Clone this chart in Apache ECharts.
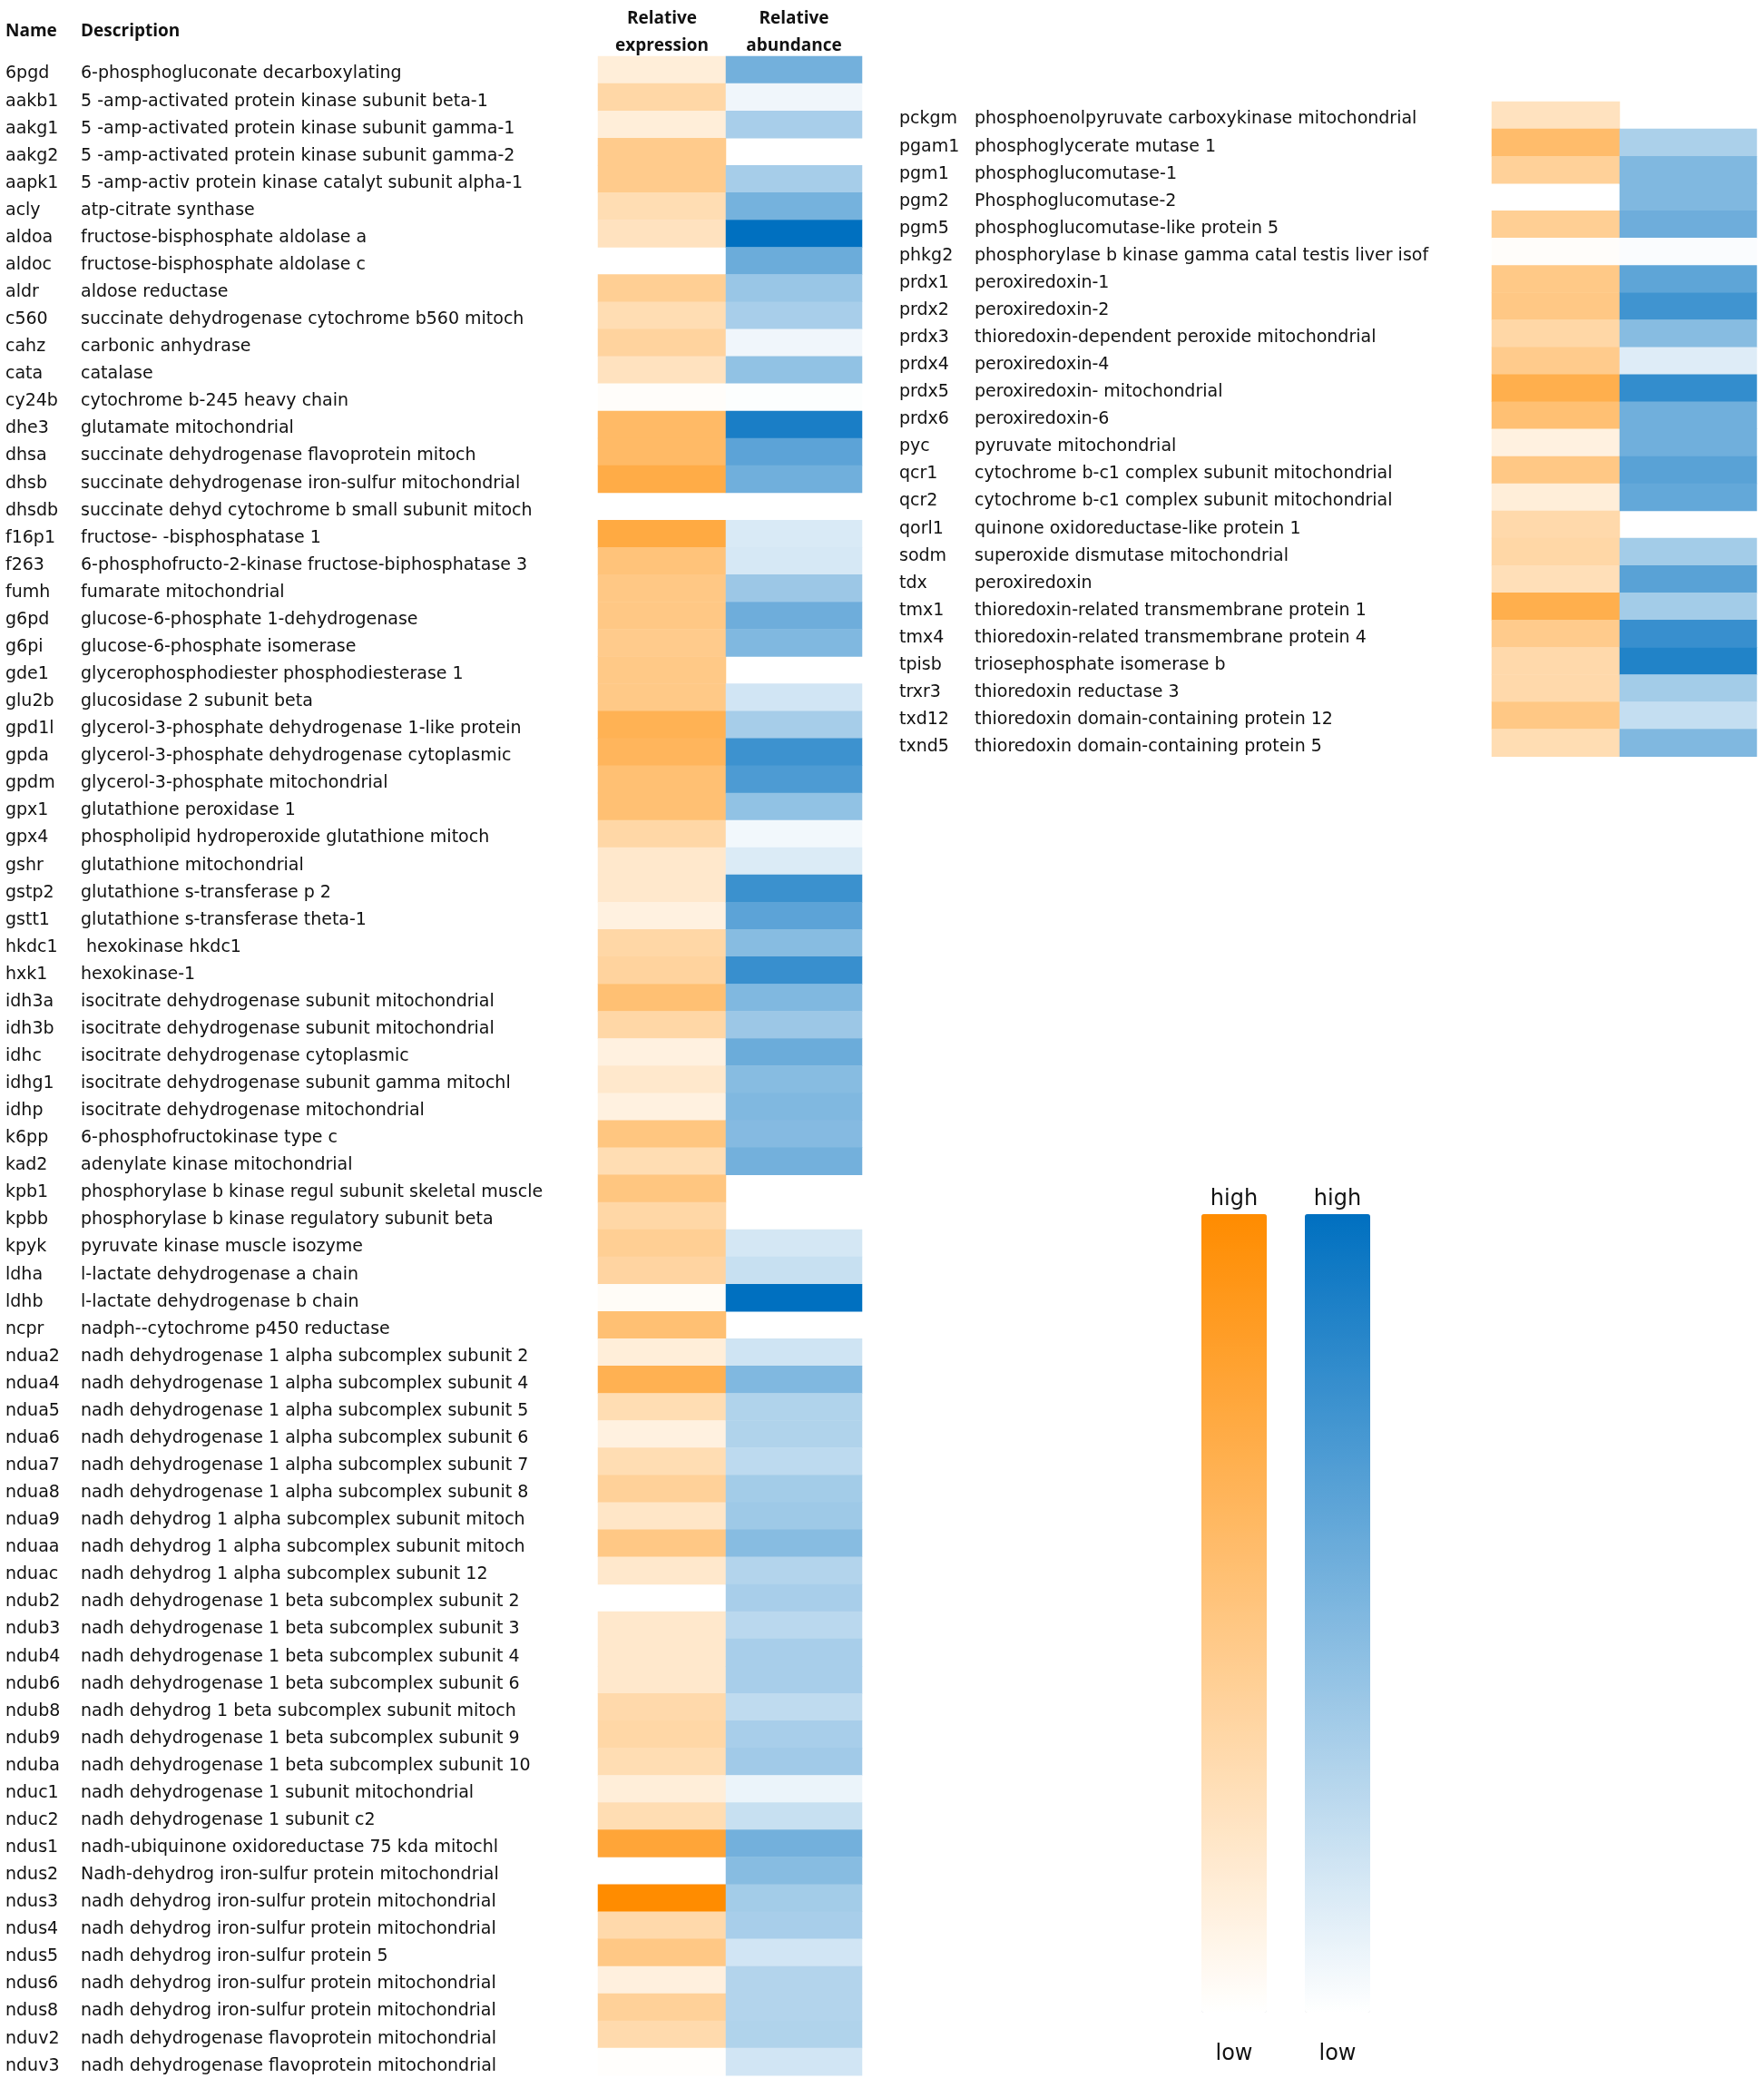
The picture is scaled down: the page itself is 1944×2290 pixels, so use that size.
<!DOCTYPE html>
<html>
<head>
<meta charset="utf-8">
<script src="https://cdn.jsdelivr.net/npm/echarts@6/dist/echarts.min.js"></script>
<style>
  html, body { margin: 0; padding: 0; background: #fff; }
  #main { width: 1944px; height: 2290px; }
</style>
</head>
<body>
<div id="main"></div>
<script>
// left table
const leftNames = ['6pgd','aakb1','aakg1','aakg2','aapk1','acly','aldoa','aldoc','aldr','c560','cahz','cata','cy24b','dhe3','dhsa','dhsb','dhsdb','f16p1','f263','fumh','g6pd','g6pi','gde1','glu2b','gpd1l','gpda','gpdm','gpx1','gpx4','gshr','gstp2','gstt1','hkdc1','hxk1','idh3a','idh3b','idhc','idhg1','idhp','k6pp','kad2','kpb1','kpbb','kpyk','ldha','ldhb','ncpr','ndua2','ndua4','ndua5','ndua6','ndua7','ndua8','ndua9','nduaa','nduac','ndub2','ndub3','ndub4','ndub6','ndub8','ndub9','nduba','nduc1','nduc2','ndus1','ndus2','ndus3','ndus4','ndus5','ndus6','ndus8','nduv2','nduv3'];
const leftDesc = [
  '6-phosphogluconate decarboxylating',
  '5 -amp-activated protein kinase subunit beta-1',
  '5 -amp-activated protein kinase subunit gamma-1',
  '5 -amp-activated protein kinase subunit gamma-2',
  '5 -amp-activ protein kinase catalyt subunit alpha-1',
  'atp-citrate synthase',
  'fructose-bisphosphate aldolase a',
  'fructose-bisphosphate aldolase c',
  'aldose reductase',
  'succinate dehydrogenase cytochrome b560 mitoch',
  'carbonic anhydrase',
  'catalase',
  'cytochrome b-245 heavy chain',
  'glutamate mitochondrial',
  'succinate dehydrogenase flavoprotein mitoch',
  'succinate dehydrogenase iron-sulfur mitochondrial',
  'succinate dehyd cytochrome b small subunit mitoch',
  'fructose- -bisphosphatase 1',
  '6-phosphofructo-2-kinase fructose-biphosphatase 3',
  'fumarate mitochondrial',
  'glucose-6-phosphate 1-dehydrogenase',
  'glucose-6-phosphate isomerase',
  'glycerophosphodiester phosphodiesterase 1',
  'glucosidase 2 subunit beta',
  'glycerol-3-phosphate dehydrogenase 1-like protein',
  'glycerol-3-phosphate dehydrogenase cytoplasmic',
  'glycerol-3-phosphate mitochondrial',
  'glutathione peroxidase 1',
  'phospholipid hydroperoxide glutathione mitoch',
  'glutathione mitochondrial',
  'glutathione s-transferase p 2',
  'glutathione s-transferase theta-1',
  ' hexokinase hkdc1',
  'hexokinase-1',
  'isocitrate dehydrogenase subunit mitochondrial',
  'isocitrate dehydrogenase subunit mitochondrial',
  'isocitrate dehydrogenase cytoplasmic',
  'isocitrate dehydrogenase subunit gamma mitochl',
  'isocitrate dehydrogenase mitochondrial',
  '6-phosphofructokinase type c',
  'adenylate kinase mitochondrial',
  'phosphorylase b kinase regul subunit skeletal muscle',
  'phosphorylase b kinase regulatory subunit beta',
  'pyruvate kinase muscle isozyme',
  'l-lactate dehydrogenase a chain',
  'l-lactate dehydrogenase b chain',
  'nadph--cytochrome p450 reductase',
  'nadh dehydrogenase 1 alpha subcomplex subunit 2',
  'nadh dehydrogenase 1 alpha subcomplex subunit 4',
  'nadh dehydrogenase 1 alpha subcomplex subunit 5',
  'nadh dehydrogenase 1 alpha subcomplex subunit 6',
  'nadh dehydrogenase 1 alpha subcomplex subunit 7',
  'nadh dehydrogenase 1 alpha subcomplex subunit 8',
  'nadh dehydrog 1 alpha subcomplex subunit mitoch',
  'nadh dehydrog 1 alpha subcomplex subunit mitoch',
  'nadh dehydrog 1 alpha subcomplex subunit 12',
  'nadh dehydrogenase 1 beta subcomplex subunit 2',
  'nadh dehydrogenase 1 beta subcomplex subunit 3',
  'nadh dehydrogenase 1 beta subcomplex subunit 4',
  'nadh dehydrogenase 1 beta subcomplex subunit 6',
  'nadh dehydrog 1 beta subcomplex subunit mitoch',
  'nadh dehydrogenase 1 beta subcomplex subunit 9',
  'nadh dehydrogenase 1 beta subcomplex subunit 10',
  'nadh dehydrogenase 1 subunit mitochondrial',
  'nadh dehydrogenase 1 subunit c2',
  'nadh-ubiquinone oxidoreductase 75 kda mitochl',
  'Nadh-dehydrog iron-sulfur protein mitochondrial',
  'nadh dehydrog iron-sulfur protein mitochondrial',
  'nadh dehydrog iron-sulfur protein mitochondrial',
  'nadh dehydrog iron-sulfur protein 5',
  'nadh dehydrog iron-sulfur protein mitochondrial',
  'nadh dehydrog iron-sulfur protein mitochondrial',
  'nadh dehydrogenase flavoprotein mitochondrial',
  'nadh dehydrogenase flavoprotein mitochondrial'
];
// relative expression (0 = low, 1 = high), null = no value
const leftExpr = [0.15,0.35,0.15,0.45,0.45,0.3,0.25,null,0.42,0.3,0.38,0.25,0.02,0.6,0.6,0.72,null,0.74,0.52,0.48,
  0.48,0.45,0.47,0.47,0.67,0.64,0.55,0.55,0.35,0.2,0.2,0.12,0.35,0.38,0.55,0.35,0.12,0.2,0.12,0.5,
  0.3,0.5,0.35,0.42,0.37,0.03,0.55,0.15,0.68,0.3,0.12,0.3,0.4,0.22,0.48,0.2,null,0.2,0.2,0.2,
  0.33,0.35,0.3,0.15,0.3,0.78,null,1.0,0.33,0.48,0.13,0.4,0.32,0.01];
// relative abundance
const leftAbund = [0.55,0.06,0.34,null,0.35,0.54,1.0,0.58,0.4,0.34,0.06,0.43,0.01,0.9,0.64,0.56,null,0.15,0.16,0.39,
  0.57,0.5,null,0.18,0.35,0.76,0.7,0.43,0.05,0.14,0.77,0.64,0.47,0.78,0.5,0.39,0.58,0.47,0.5,0.48,
  0.55,null,null,0.17,0.22,1.0,null,0.19,0.5,0.31,0.31,0.26,0.36,0.38,0.47,0.3,0.34,0.27,0.34,0.34,
  0.25,0.34,0.37,0.08,0.22,0.55,0.47,0.36,0.34,0.18,0.3,0.3,0.31,0.18];

// right table
const rightNames = ['pckgm','pgam1','pgm1','pgm2','pgm5','phkg2','prdx1','prdx2','prdx3','prdx4','prdx5','prdx6','pyc','qcr1','qcr2','qorl1','sodm','tdx','tmx1','tmx4','tpisb','trxr3','txd12','txnd5'];
const rightDesc = [
  'phosphoenolpyruvate carboxykinase mitochondrial',
  'phosphoglycerate mutase 1',
  'phosphoglucomutase-1',
  'Phosphoglucomutase-2',
  'phosphoglucomutase-like protein 5',
  'phosphorylase b kinase gamma catal testis liver isof',
  'peroxiredoxin-1',
  'peroxiredoxin-2',
  'thioredoxin-dependent peroxide mitochondrial',
  'peroxiredoxin-4',
  'peroxiredoxin- mitochondrial',
  'peroxiredoxin-6',
  'pyruvate mitochondrial',
  'cytochrome b-c1 complex subunit mitochondrial',
  'cytochrome b-c1 complex subunit mitochondrial',
  'quinone oxidoreductase-like protein 1',
  'superoxide dismutase mitochondrial',
  'peroxiredoxin',
  'thioredoxin-related transmembrane protein 1',
  'thioredoxin-related transmembrane protein 4',
  'triosephosphate isomerase b',
  'thioredoxin reductase 3',
  'thioredoxin domain-containing protein 12',
  'thioredoxin domain-containing protein 5'
];
const rightExpr = [0.25,0.58,0.4,null,0.42,0.02,0.47,0.48,0.35,0.45,0.7,0.55,0.12,0.48,0.15,0.33,0.35,0.28,0.7,0.45,0.33,0.33,0.48,0.3];
const rightAbund = [null,0.33,0.5,0.5,0.57,0.02,0.63,0.75,0.47,0.13,0.8,0.56,0.56,0.65,0.61,null,0.36,0.65,0.36,0.78,0.87,0.36,0.23,0.5];

const colHeaders = ['Relative\nexpression', 'Relative\nabundance'];
const legendText = ['high', 'low'];

const HEAD_FONT = '"Open Sans", sans-serif';
const FONT = '"DejaVu Sans", sans-serif';
const ROW = 30.07;

function cells(values) {
  const out = [];
  values.forEach((v, i) => { if (v !== null) out.push([0, i, v]); });
  return out;
}

function labelAxis(grid, names, desc) {
  return {
    type: 'category', gridIndex: grid, data: names, inverse: true,
    axisLine: { show: false }, axisTick: { show: false }, splitLine: { show: false },
    axisLabel: {
      align: 'left', margin: 653, interval: 0, padding: [9, 0, 0, 0],
      formatter: (v, i) => '{n|' + v + '}{d|' + desc[i] + '}',
      rich: {
        n: { width: 83, fontSize: 19, fontFamily: FONT, color: '#111' },
        d: { fontSize: 19, fontFamily: FONT, color: '#111' }
      }
    }
  };
}
function hiddenY(grid, names) {
  return { type: 'category', gridIndex: grid, data: names, inverse: true, show: false };
}
function topX(grid, title) {
  return {
    type: 'category', gridIndex: grid, position: 'top', data: [title],
    axisLine: { show: false }, axisTick: { show: false },
    axisLabel: { margin: -4, fontWeight: 'bold', fontSize: 19, lineHeight: 30, fontFamily: HEAD_FONT, color: '#111' }
  };
}
function hiddenX(grid) {
  return { type: 'category', gridIndex: grid, data: ['v'], show: false };
}
function heat(grid, values) {
  return {
    type: 'heatmap', xAxisIndex: grid, yAxisIndex: grid, data: cells(values),
    emphasis: { disabled: true }, progressive: 0
  };
}

const leftTop = 62, rightTop = 112;
const option = {
  animation: false,
  grid: [
    { left: 659, top: leftTop, width: 141, height: ROW * leftNames.length },
    { left: 800, top: leftTop, width: 150, height: ROW * leftNames.length },
    { left: 1644, top: rightTop, width: 141, height: ROW * rightNames.length },
    { left: 1785, top: rightTop, width: 151, height: ROW * rightNames.length }
  ],
  xAxis: [topX(0, colHeaders[0]), topX(1, colHeaders[1]), hiddenX(2), hiddenX(3)],
  yAxis: [
    labelAxis(0, leftNames, leftDesc), hiddenY(1, leftNames),
    labelAxis(2, rightNames, rightDesc), hiddenY(3, rightNames)
  ],
  visualMap: [
    {
      type: 'continuous', seriesIndex: [0, 2], min: 0, max: 1, calculable: false,
      orient: 'vertical', left: 1324, top: 1338, itemWidth: 72, itemHeight: 880, padding: 0,
      inRange: { color: ['#ffffff', '#ff8c00'] }
    },
    {
      type: 'continuous', seriesIndex: [1, 3], min: 0, max: 1, calculable: false,
      orient: 'vertical', left: 1438, top: 1338, itemWidth: 72, itemHeight: 880, padding: 0,
      inRange: { color: ['#ffffff', '#0070c0'] }
    }
  ],
  graphic: [
    { type: 'text', left: 6, top: 25, style: { text: 'Name', font: 'bold 19px ' + HEAD_FONT, fill: '#111' } },
    { type: 'text', left: 89, top: 25, style: { text: 'Description', font: 'bold 19px ' + HEAD_FONT, fill: '#111' } },
    { type: 'text', x: 1360, y: 1322, style: { text: legendText[0], font: '24px ' + FONT, fill: '#111', align: 'center', verticalAlign: 'middle' } },
    { type: 'text', x: 1474, y: 1322, style: { text: legendText[0], font: '24px ' + FONT, fill: '#111', align: 'center', verticalAlign: 'middle' } },
    { type: 'text', x: 1360, y: 2264, style: { text: legendText[1], font: '24px ' + FONT, fill: '#111', align: 'center', verticalAlign: 'middle' } },
    { type: 'text', x: 1474, y: 2264, style: { text: legendText[1], font: '24px ' + FONT, fill: '#111', align: 'center', verticalAlign: 'middle' } }
  ],
  series: [heat(0, leftExpr), heat(1, leftAbund), heat(2, rightExpr), heat(3, rightAbund)]
};

const chart = echarts.init(document.getElementById('main'));
chart.setOption(option);
</script>
</body>
</html>
